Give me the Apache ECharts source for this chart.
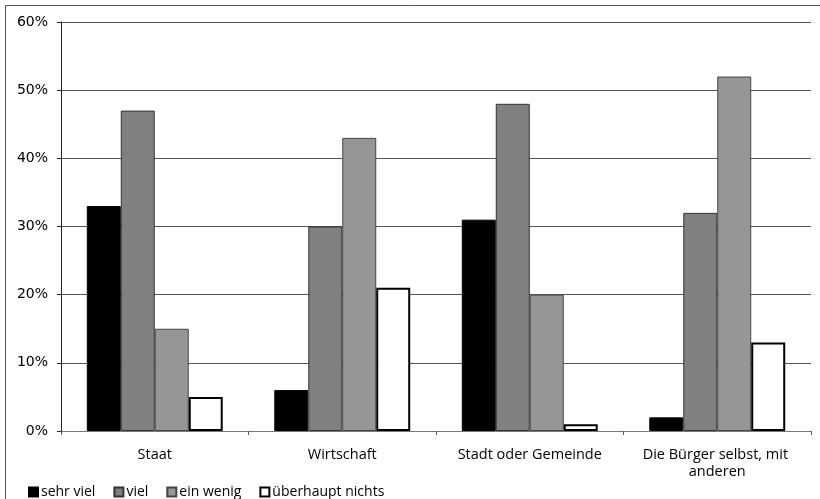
<!DOCTYPE html>
<html>
<head>
<meta charset="utf-8">
<script src="https://cdn.jsdelivr.net/npm/echarts@6/dist/echarts.min.js"></script>
<style>
  html, body { margin: 0; padding: 0; background: #fff; }
  #chart { width: 820px; height: 499px; }
</style>
</head>
<body>
<div id="chart"></div>
<script>
// Kategorien und Werte (in Prozent)
const categories = ['Staat', 'Wirtschaft', 'Stadt oder Gemeinde', 'Die Bürger selbst, mit anderen']
const sehrViel = [33, 6, 31, 2]
const viel = [47, 30, 48, 32]
const einWenig = [15, 43, 20, 52]
const ueberhauptNichts = [5, 21, 1, 13]
const seriesNames = ['sehr viel', 'viel', 'ein wenig', 'überhaupt nichts']

const chart = echarts.init(document.getElementById('chart'))

function barSeries (name, data, fill, border, bw) {
  return {
    name: name,
    type: 'bar',
    data: data,
    barGap: 0,
    barCategoryGap: '27.5%',
    itemStyle: {
      color: fill,
      borderColor: border,
      borderWidth: bw
    }
  }
}

const option = {
  backgroundColor: '#fff',
  animation: false,
  textStyle: { fontFamily: 'Open Sans' },
  graphic: [{
    type: 'rect',
    shape: { x: 5.5, y: 5.5, width: 900, height: 600 },
    style: { fill: 'none', stroke: '#555', lineWidth: 1 },
    z: -1
  }],
  legend: {
    data: seriesNames,
    left: 23,
    top: 480,
    itemWidth: 9,
    itemHeight: 9,
    itemGap: 18,
    icon: 'rect',
    textStyle: { color: '#000', fontSize: 14, fontFamily: 'Open Sans', padding: [0, 0, 0, -2] }
  },
  grid: {
    left: 61,
    right: 9,
    top: 22,
    bottom: 68
  },
  xAxis: {
    type: 'category',
    data: categories,
    axisLine: { lineStyle: { color: '#777', width: 1 } },
    axisTick: { show: true, length: 4, interval: 0, lineStyle: { color: '#555' } },
    axisLabel: {
      color: '#000',
      fontSize: 14.5,
      fontFamily: 'Open Sans',
      margin: 15,
      lineHeight: 17,
      interval: 0,
      width: 170,
      overflow: 'break'
    }
  },
  yAxis: {
    type: 'value',
    min: 0,
    max: 60,
    interval: 10,
    axisLine: { show: true, lineStyle: { color: '#222' } },
    axisTick: { show: true, length: 4, lineStyle: { color: '#222' } },
    axisLabel: {
      formatter: '{value}%',
      color: '#000',
      fontSize: 14,
      fontFamily: 'DejaVu Sans',
      margin: 13
    },
    splitLine: { lineStyle: { color: '#555', width: 1 } }
  },
  series: [
    barSeries(seriesNames[0], sehrViel, '#000', '#000', 1),
    barSeries(seriesNames[1], viel, '#808080', '#333', 1),
    barSeries(seriesNames[2], einWenig, '#969696', '#444', 1),
    barSeries(seriesNames[3], ueberhauptNichts, '#fff', '#000', 2)
  ]
}

chart.setOption(option)
</script>
</body>
</html>
